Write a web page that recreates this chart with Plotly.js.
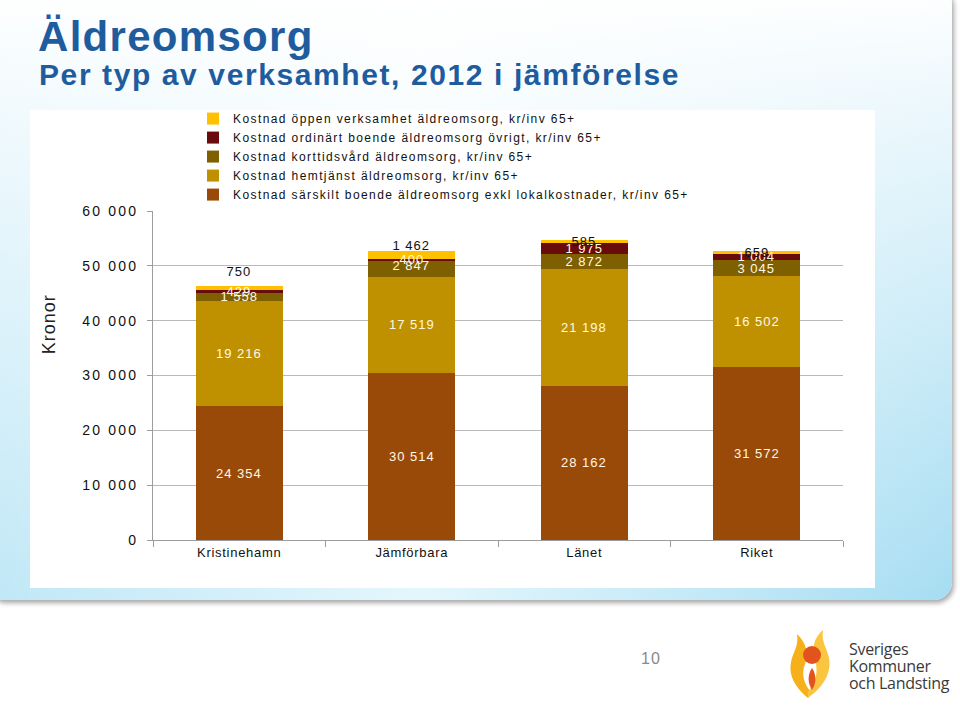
<!DOCTYPE html>
<html>
<head>
<meta charset="utf-8">
<script src="https://cdn.plot.ly/plotly-3.0.1.min.js"></script>
<style>
  html, body { margin:0; padding:0; background:#ffffff; width:960px; height:706px; overflow:hidden; position:relative; }
  #panel { position:absolute; left:-14px; top:-14px; width:966px; height:614px; border-radius:18px;
    background:
      linear-gradient(to bottom, rgba(255,255,255,1) 0%, rgba(255,255,255,0.8) 18%, rgba(255,255,255,0) 100%),
      linear-gradient(to right, #bfe7f6 0%, #e4f6fc 45%, #a6ddf2 100%);
    box-shadow: 2px 3px 5px rgba(0,0,0,0.35); }
  #box { position:absolute; left:30px; top:110px; width:845px; height:478px; background:#ffffff; }
  #chart { position:absolute; left:0; top:0; width:960px; height:706px; }
  #pageno { position:absolute; left:641px; top:650px; font-family:"Liberation Sans", Arial, sans-serif; font-size:16px; color:#8a8a8a; letter-spacing:1px; }
  #logo { position:absolute; left:782px; top:622px; }
  #logotext { position:absolute; left:849px; top:641px; font-family:"Open Sans", "Noto Sans", sans-serif; font-size:16px; line-height:17px; color:#3a3a3a; letter-spacing:-0.3px; }
  #chart .ytick text { letter-spacing:2.2px; }
  #chart .xtick text { letter-spacing:0.7px; }
  #chart .legendtext { letter-spacing:1.4px; }
  #chart .legend .scrollbox { clip-path:none !important; }
  #chart .annotation-text { letter-spacing:1px; }
  #chart .annotation[data-index="21"] text { letter-spacing:1.6px; }
  #chart .gtitle { letter-spacing:1.3px; }
</style>
</head>
<body>
<div id="panel"></div>
<div id="box"></div>
<div id="chart"></div>
<div id="pageno">10</div>
<svg id="logo" width="64" height="82" viewBox="0 0 64 82">
  <path d="M26,76 C14,66 6,54 9,40 C11,30 17,24 15,12 C24,20 27,32 23,42 C19,52 22,62 29,70 Z" fill="#F6B01A"/>
  <path d="M26,76 C40,66 50,52 47,36 C45,26 39,20 41,8 C31,16 30,28 33,38 C37,50 33,62 26,70 Z" fill="#FBC53F"/>
  <circle cx="30" cy="33" r="9" fill="#E2531D"/>
  <path d="M30,46 C34,52 35,60 30,68 C25,60 26,52 30,46 Z" fill="#E2531D"/>
</svg>
<div id="logotext">Sveriges<br>Kommuner<br>och Landsting</div>
<script>
// ---- data ----
const categories = ["Kristinehamn", "Jämförbara", "Länet", "Riket"];
const seriesNames = [
  "Kostnad särskilt boende äldreomsorg exkl lokalkostnader, kr/inv 65+",
  "Kostnad hemtjänst äldreomsorg, kr/inv 65+",
  "Kostnad korttidsvård äldreomsorg, kr/inv 65+",
  "Kostnad ordinärt boende äldreomsorg övrigt, kr/inv 65+",
  "Kostnad öppen verksamhet äldreomsorg, kr/inv 65+"
];
const sarskiltBoende = [24354, 30514, 28162, 31572];
const hemtjanst = [19216, 17519, 21198, 16502];
const korttidsvard = [1558, 2847, 2872, 3045];
const ordinartBoende = [429, 400, 1975, 1004];
const oppenVerksamhet = [750, 1462, 585, 659];
const yTickValues = [0, 10000, 20000, 30000, 40000, 50000, 60000];
const yTickLabels = ["0", "10 000", "20 000", "30 000", "40 000", "50 000", "60 000"];
const titleText = "Äldreomsorg";
const subtitleText = "Per typ av verksamhet, 2012 i jämförelse";
const yAxisTitle = "Kronor";

// ---- styling ----
const seriesValues = [sarskiltBoende, hemtjanst, korttidsvard, ordinartBoende, oppenVerksamhet];
const seriesColors = ["#9A4A08", "#BF9000", "#7F6000", "#6A0B0B", "#FFC000"];
const labelColors = ["#FFF8E6", "#FFF8E6", "#FFF8E6", "#FFF8E6", "#111111"];
const labelShift = { 2: [0, 3, 0, 0], 4: [17, 9, 0, 0] };
const fontFamily = '"Liberation Sans", Arial, sans-serif';
const titleBlue = "#1F5C9E";

function fmt(v) { return String(v).replace(/\B(?=(\d{3})+(?!\d))/g, " "); }

const traces = seriesValues.map((vals, i) => ({
  type: "bar",
  name: seriesNames[i],
  x: categories,
  y: vals,
  marker: { color: seriesColors[i], line: { width: 0 } },
  hoverinfo: "name+y"
}));

const annotations = [];
categories.forEach((cat, j) => {
  let base = 0;
  seriesValues.forEach((vals, i) => {
    const v = vals[j];
    annotations.push({
      x: cat, xref: "x", y: base + v / 2, yref: "y",
      text: fmt(v), showarrow: false,
      yshift: (labelShift[i] ? labelShift[i][j] : 0),
      font: { family: fontFamily, size: 13, color: labelColors[i] }
    });
    base += v;
  });
});
// index 20: axis title
annotations.push({
  text: yAxisTitle, xref: "paper", yref: "paper", x: -0.151, y: 0.655,
  xanchor: "center", yanchor: "middle",
  showarrow: false, textangle: -90,
  font: { family: fontFamily, size: 18, color: "#222222" }
});
// index 21: subtitle
annotations.push({
  text: subtitleText, xref: "paper", yref: "paper", x: -0.1685, y: 1.4164,
  xanchor: "left", yanchor: "middle", align: "left", showarrow: false,
  font: { family: fontFamily, size: 30, color: titleBlue, weight: "bold" }
});

const layout = {
  width: 960, height: 706,
  margin: { l: 153, r: 117, t: 211, b: 166, pad: 0 },
  paper_bgcolor: "rgba(0,0,0,0)",
  plot_bgcolor: "rgba(0,0,0,0)",
  font: { family: fontFamily, size: 13, color: "#111111" },
  barmode: "stack",
  bargap: 0.495,
  title: {
    text: titleText,
    font: { family: fontFamily, size: 42, color: titleBlue, weight: "bold" },
    xref: "container", x: 38 / 960, xanchor: "left",
    yref: "container", y: 1 - 22 / 706, yanchor: "top"
  },
  xaxis: {
    type: "category",
    showline: true, linecolor: "#9c9c9c", linewidth: 1,
    ticks: "outside", tickson: "boundaries", ticklen: 6, tickcolor: "#9c9c9c",
    showgrid: false,
    tickfont: { family: fontFamily, size: 13, color: "#111111" }
  },
  yaxis: {
    range: [0, 60000],
    tickvals: yTickValues, ticktext: yTickLabels,
    showline: true, linecolor: "#9c9c9c", linewidth: 1,
    ticks: "outside", ticklen: 5, tickcolor: "#9c9c9c",
    showgrid: true, gridcolor: "#b9b9b9", gridwidth: 1,
    zeroline: false,
    ticklabelstandoff: 6,
    tickfont: { family: fontFamily, size: 14, color: "#111111" }
  },
  legend: {
    x: 0.058, y: 1.325, xanchor: "left", yanchor: "top",
    traceorder: "reversed",
    bgcolor: "rgba(0,0,0,0)", borderwidth: 0,
    font: { family: fontFamily, size: 12, color: "#111111" }
  },
  showlegend: true,
  annotations: annotations
};

Plotly.newPlot("chart", traces, layout, { displayModeBar: false, responsive: false });
</script>
</body>
</html>
